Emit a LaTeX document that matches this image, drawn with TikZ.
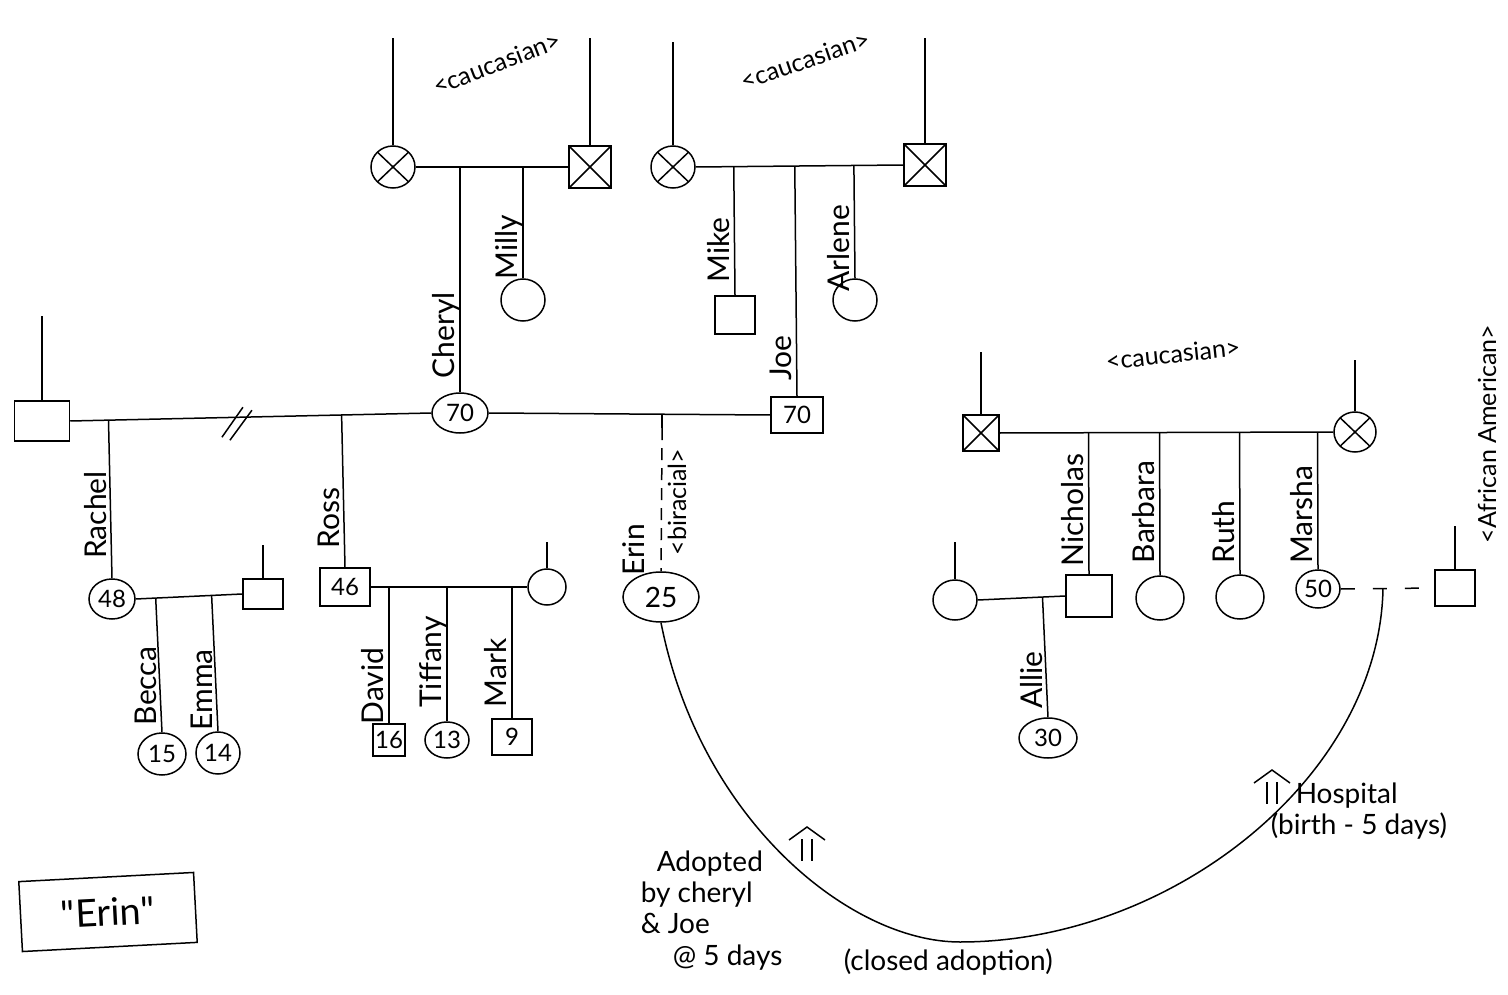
\documentclass[tikz,border=0pt]{standalone}
\usepackage{fontspec}
\setmainfont{Lato}
\usetikzlibrary{arrows.meta, shapes.geometric, calc}

\begin{document}
\begin{tikzpicture}[x=1pt, y=-1pt, line width=1.5pt,
  person/.style={draw, inner sep=0pt, font=\fontsize{24}{24}\selectfont},
  female/.style={person, ellipse, minimum width=44pt, minimum height=42pt},
  male/.style={person, rectangle, minimum width=40pt, minimum height=38pt},
  dead/.style={path picture={\draw (path picture bounding box.north west) -- (path picture bounding box.south east)
      (path picture bounding box.south west) -- (path picture bounding box.north east);}},
  lbl/.style={rotate=90, anchor=base, inner sep=0pt, font=\fontsize{30}{30}\selectfont},
  race/.style={inner sep=0pt, font=\fontsize{25}{25}\selectfont},
  note/.style={inner sep=0pt, align=left, font=\fontsize{28}{31}\selectfont}
]
\useasboundingbox (0,0) rectangle (1508,995);

% grandparents
\node[female, dead] (gmC) at (393,167) {};
\node[male, dead, minimum size=42pt] (gfC) at (590,167) {};
\node[female, dead] (gmJ) at (673,167) {};
\node[male, dead, minimum size=42pt] (gfJ) at (925,165) {};
\node[male, dead, minimum size=36pt] (gfM) at (981,433) {};
\node[female, dead, minimum width=42pt, minimum height=40pt] (gmM) at (1355,432) {};

% second generation
\node[female] (milly) at (523,300) {};
\node[male] (mike) at (735,315) {};
\node[female] (arlene) at (855,300) {};
\node[female, minimum width=56pt, minimum height=40pt] (cheryl) at (460,413) {70};
\node[male, minimum width=52pt, minimum height=36pt] (joe) at (797,415) {70};
\node[male, minimum width=55pt, minimum height=40pt] (exh) at (42,421) {};
\node[female, minimum width=44pt, minimum height=40pt] (wN) at (955,600) {};
\node[male, minimum width=46pt, minimum height=42pt] (nicholas) at (1089,596) {};
\node[female, minimum width=48pt, minimum height=44pt] (barbara) at (1160,598) {};
\node[female, minimum width=48pt, minimum height=44pt] (ruth) at (1240,597) {};
\node[female, minimum width=44pt, minimum height=38pt] (marsha) at (1318,589) {50};
\node[male, minimum width=40pt, minimum height=36pt] (pAA) at (1455,588) {};

% third generation
\node[female, minimum width=46pt, minimum height=40pt] (rachel) at (112,599) {48};
\node[male, minimum width=40pt, minimum height=30pt] (hR) at (263,594) {};
\node[male, minimum width=50pt, minimum height=38pt] (ross) at (345,587) {46};
\node[female, minimum width=38pt, minimum height=36pt] (wR) at (547,587) {};
\node[female, minimum width=76pt, minimum height=50pt, font=\fontsize{28}{28}\selectfont] (erin) at (661,597) {25};
\node[female, minimum width=58pt, minimum height=40pt] (allie) at (1048,738) {30};

% fourth generation
\node[female, minimum width=48pt, minimum height=42pt] (becca) at (162,754) {15};
\node[female, minimum width=44pt, minimum height=42pt] (emma) at (218,753) {14};
\node[male, minimum width=32pt, minimum height=32pt] (david) at (389,740) {16};
\node[female, minimum width=44pt, minimum height=36pt] (tiffany) at (447,740) {13};
\node[male, minimum width=40pt, minimum height=36pt] (mark) at (512,737) {9};

% lines to the parents of those not shown
\foreach \n/\h in {gmC/107, gfC/107, gmJ/103, gfJ/105, gfM/62, gmM/51, exh/84, hR/33, wR/26, wN/37, pAA/43}{
  \path (\n.north) ++(0,-\h) coordinate (\n-up);
  \draw (\n.north) -- (\n-up);
}

% couples
\foreach \a/\b in {gmC/gfC, gmJ/gfJ, gfM/gmM, exh/cheryl, cheryl/joe, rachel/hR, ross/wR, wN/nicholas}
  \draw (\a.east) -- (\b.west);
\draw[dash pattern=on 14pt off 18pt] (marsha.east) -- (pAA.west);

% divorce
\coordinate (div) at ($(exh.east)!0.47!(cheryl.west)$);
\draw (div) ++(-18,20) -- ++(21,-30) (div) ++(-10,23) -- ++(22,-30);

% children
\foreach \c/\a/\b in {cheryl/gmC/gfC, milly/gmC/gfC, mike/gmJ/gfJ, joe/gmJ/gfJ, arlene/gmJ/gfJ,
    rachel/exh/cheryl, ross/exh/cheryl, becca/rachel/hR, emma/rachel/hR,
    david/ross/wR, tiffany/ross/wR, mark/ross/wR,
    nicholas/gfM/gmM, barbara/gfM/gmM, ruth/gfM/gmM, marsha/gfM/gmM, allie/wN/nicholas}
  \draw (\c.north) -- ($(\a.east)!(\c.north)!(\b.west)$);

% adopted child
\coordinate (erinTop) at ($(cheryl.east)!(erin.north)!(joe.west)$);
\draw (erinTop) -- ++(0,14) coordinate (erinMid);
\draw[dash pattern=on 12pt off 8pt] (erinMid) -- (erin.north);

% birth parents to adoption
\coordinate (bio) at ($(marsha.east)!0.45!(pAA.west)$);
\coordinate (adoptLow) at (960,942);
\draw (bio) -- ++(0,6) .. controls (1375,780) and (1170,942) .. (adoptLow)
  .. controls (850,942) and (700,820) .. (erin.south);

% double arrows
\foreach \ar/\ax/\ay in {arrL/807/827, arrH/1272/770}{
  \coordinate (\ar) at (\ax,\ay);
  \draw (\ar) ++(-5,12) -- ++(0,22) (\ar) ++(5,12) -- ++(0,22);
  \draw (\ar) ++(-18,13) -- (\ar) -- ++(18,13);
}

% names
\foreach \p/\t/\ty in {cheryl/Cheryl/335, milly/Milly/247, mike/Mike/250, joe/Joe/358, arlene/Arlene/248,
    rachel/Rachel/515, ross/Ross/518, becca/Becca/686, emma/Emma/690, david/David/686,
    tiffany/Tiffany/662, mark/Mark/673, nicholas/Nicholas/510,
    barbara/Barbara/512, ruth/Ruth/532, marsha/Marsha/515, allie/Allie/680}
  \node[lbl] (\p-lbl) at ($(\p.center |- 0,\ty)+(-6,0)$) {\t};
\node[lbl] (erin-lbl) at ($(erin.center |- 0,550)+(-17,0)$) {Erin};

% race
\node[race, rotate=21] (raceC) at (497,63) {<caucasian>};
\node[race, rotate=19] (raceJ) at (805,60) {<caucasian>};
\node[race, rotate=6] (raceM) at (1173,354) {<caucasian>};
\node[race, rotate=90] (raceAA) at (1487,434) {<African American>};
\node[race, rotate=90, anchor=north] (raceE) at (667,502) {<biracial>};

% notes
\node[note, anchor=north west] (adoptNote) at (640,850) {\hspace*{16pt}Adopted\\by cheryl\\\& Joe};
\node[note, anchor=west] (daysNote) at (672,958) {@ 5 days};
\node[note, anchor=west] (closedNote) at (843,962) {(closed adoption)};
\node[note, anchor=north west] (hospNote) at (1270,782) {\hspace*{25pt}Hospital\\(birth - 5 days)};

\node[draw, rotate=3, minimum width=175pt, minimum height=70pt, font=\fontsize{38}{38}\selectfont] (erinBox) at (108,912) {\textquotedbl Erin\textquotedbl};
\end{tikzpicture}
\end{document}
